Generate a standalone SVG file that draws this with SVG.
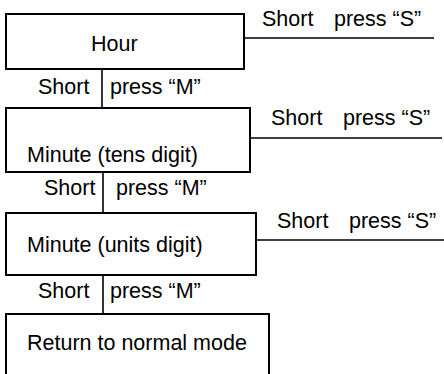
<svg xmlns="http://www.w3.org/2000/svg" width="444" height="374" viewBox="0 0 444 374">
<style>
.box{fill:#fff;stroke:#000;stroke-width:2}
.ln{stroke:#000;stroke-width:1.6;fill:none}
text{font-family:"Liberation Sans",Arial,sans-serif;font-size:21.5px;fill:#000}
</style>
<rect width="444" height="374" fill="#fff"/>
<g id="connectors">
<line class="ln" x1="244" y1="38" x2="434" y2="38"/>
<line class="ln" x1="250" y1="138" x2="442" y2="138"/>
<line class="ln" x1="256" y1="240" x2="444" y2="240"/>
<line class="ln" x1="102" y1="69" x2="102" y2="108"/>
<line class="ln" x1="103" y1="172" x2="103" y2="213"/>
<line class="ln" x1="103" y1="275" x2="103" y2="314"/>
<text x="262" y="26">Short</text><text x="334" y="26">press “S”</text>
<text x="271" y="125">Short</text><text x="343" y="125">press “S”</text>
<text x="277" y="228">Short</text><text x="349" y="228">press “S”</text>
<text x="38" y="94">Short</text><text x="110" y="94">press “M”</text>
<text x="44" y="195">Short</text><text x="116" y="195">press “M”</text>
<text x="38" y="298">Short</text><text x="110" y="298">press “M”</text>
</g>
<g id="hour"><rect class="box" x="6" y="14" width="238" height="55"/><text x="91" y="51">Hour</text></g>
<g id="tens"><rect class="box" x="6" y="108" width="244" height="64"/><text x="27" y="162">Minute (tens digit)</text></g>
<g id="units"><rect class="box" x="6" y="213" width="250" height="62"/><text x="27" y="252">Minute (units digit)</text></g>
<g id="normal"><rect class="box" x="6" y="314" width="263" height="64"/><text x="27" y="350">Return to normal mode</text></g>
</svg>
